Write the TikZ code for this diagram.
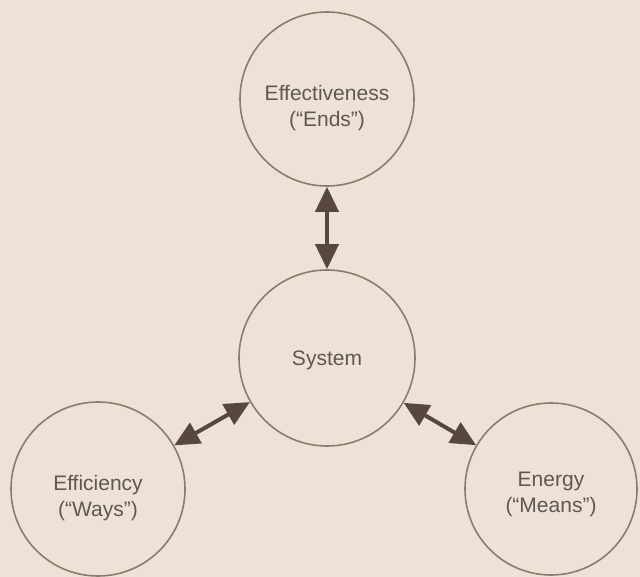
\documentclass[tikz,border=0pt]{standalone}
\usepackage{fontspec}
\setmainfont{Liberation Sans}
\usetikzlibrary{arrows.meta}
\definecolor{bgbeige}{RGB}{237,226,213}
\definecolor{ringcol}{RGB}{138,124,110}
\definecolor{txtcol}{RGB}{95,87,84}
\definecolor{arrowcol}{RGB}{88,70,64}
\newcommand{\lowtxt}[2]{\raisebox{-#1}[\height][\depth]{\begin{tabular}{@{}c@{}}#2\end{tabular}}}
\tikzset{
  ring/.style={circle, draw=ringcol, line width=1.6pt, fill=bgbeige,
    minimum size=#1, inner sep=0pt, align=center, text=txtcol,
    font=\fontsize{21}{26}\selectfont},
  dblarrow/.style={draw=arrowcol, line width=4pt,
    {Triangle[length=25pt,width=23pt]}-{Triangle[length=25pt,width=23pt]}}
}
\begin{document}
\begin{tikzpicture}[x=1pt,y=-1pt]
\fill[bgbeige] (0,0) rectangle (640,577);
\useasboundingbox (0,0) rectangle (640,577);
\node[ring=174pt] (top) at (327,99) {\lowtxt{9pt}{Effectiveness\\(“Ends”)}};
\node[ring=176pt] (sys) at (327,358) {\lowtxt{2pt}{System}};
\node[ring=174pt] (left) at (98,489) {\lowtxt{9pt}{Efficiency\\(“Ways”)}};
\node[ring=172pt] (right) at (551,489) {\lowtxt{5pt}{Energy\\(“Means”)}};
\draw[dblarrow] (top) -- (sys);
\draw[dblarrow] (sys) -- (left);
\draw[dblarrow] (sys) -- (right);
\end{tikzpicture}
\end{document}
